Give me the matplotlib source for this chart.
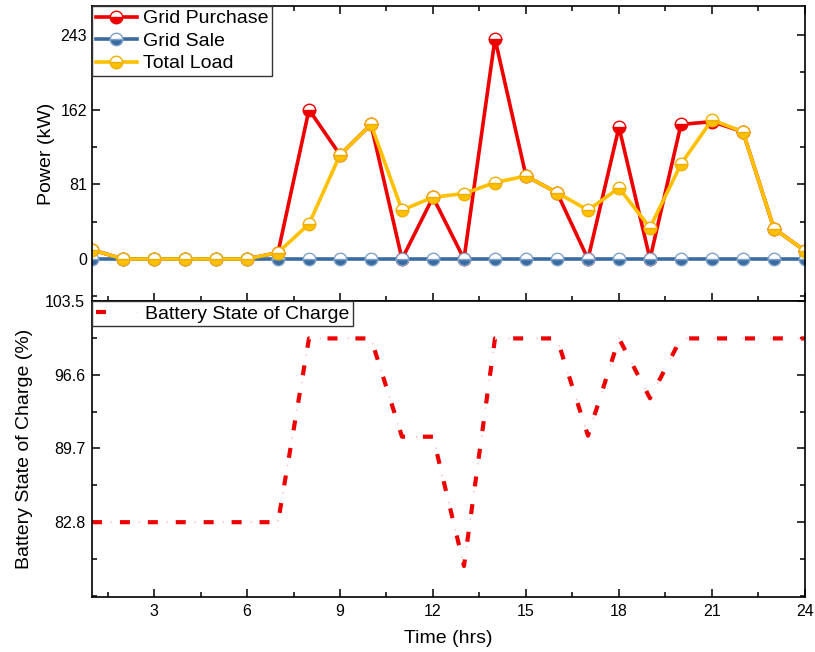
import matplotlib
matplotlib.use("Agg")
import matplotlib.pyplot as plt
from matplotlib.ticker import MultipleLocator
from matplotlib.legend_handler import HandlerTuple

plt.rcParams['font.family'] = ['Liberation Sans', 'DejaVu Sans']

hours = list(range(1, 25))
grid_purchase = [10, 0, 0, 0, 0, 0, 7, 162, 113, 146, 0, 67, 0, 239, 90, 72,
                 0, 143, 0, 146, 149, 138, 33, 9]
grid_sale = [0] * 24
total_load = [10, 0, 0, 0, 0, 0, 7, 38, 113, 146, 53, 67, 71, 83, 90, 72,
              53, 77, 34, 103, 151, 138, 33, 9]
battery_soc = [82.8, 82.8, 82.8, 82.8, 82.8, 82.8, 82.8, 100, 100, 100, 90.8, 90.8,
               78.7, 100, 100, 100, 90.9, 100, 94.4, 100, 100, 100, 100, 100]

power_ticks = [0, 81, 162, 243]
soc_ticks = [82.8, 89.7, 96.6, 103.5]

red = '#ee0000'
blue = '#3a6ba0'
yellow = '#ffc000'

fig = plt.figure(figsize=(8.15, 6.52), dpi=100)
ax1 = fig.add_axes([0.1129, 0.5383, 0.8748, 0.4525])
ax2 = fig.add_axes([0.1129, 0.0844, 0.8748, 0.4539])

mk = dict(marker='o', markersize=9, fillstyle='bottom', markerfacecoloralt='white',
          linewidth=2.6, markeredgewidth=1.0)
ax1.plot(hours, grid_purchase, color=red, markerfacecolor=red,
         markeredgecolor=red, label='Grid Purchase', **mk)
ax1.plot(hours, grid_sale, color=blue, markerfacecolor=blue,
         markeredgecolor='#7fa2c8', label='Grid Sale', **mk)
ax1.plot(hours, total_load, color=yellow, markerfacecolor=yellow,
         markeredgecolor='#f0b000', label='Total Load', **mk)

ax1.set_xlim(1, 24)
ax1.set_ylim(-45.6, 274.5)
ax1.set_yticks(power_ticks)
ax1.yaxis.set_minor_locator(MultipleLocator(40.5))
ax1.set_ylabel('Power (kW)', fontsize=14)
ax1.tick_params(labelbottom=False)
ax1.tick_params(which='both', direction='in', top=True, right=True, width=1.1)
ax1.tick_params(which='major', length=6, labelsize=11.5)
ax1.tick_params(which='minor', length=3.5)

leg1 = ax1.legend(loc='upper left', fontsize=14, fancybox=False, borderaxespad=0,
                  handlelength=2.1, handletextpad=0.3, labelspacing=0.25,
                  borderpad=0.2, framealpha=1)
leg1.get_frame().set_edgecolor('#333333')
leg1.get_frame().set_linewidth(1.0)

soc_line, = ax2.plot(hours, battery_soc, color=red, linewidth=3,
                     linestyle=(0, (2.4, 4.3)))
soc_dots, = ax2.plot(hours, battery_soc, color='#ffb8b8', linewidth=1,
                     linestyle=(7.0, (1.0, 19.2)))

ax2.set_xlim(1, 24)
ax2.set_ylim(75.8, 103.5)
ax2.set_xticks(range(3, 25, 3))
ax2.xaxis.set_minor_locator(MultipleLocator(1.5))
ax1.set_xticks(range(3, 25, 3))
ax1.xaxis.set_minor_locator(MultipleLocator(1.5))
ax2.set_yticks(soc_ticks)
ax2.set_yticklabels([str(t) for t in soc_ticks])
ax2.yaxis.set_minor_locator(MultipleLocator(3.45))
ax2.set_xlabel('Time (hrs)', fontsize=14, labelpad=8)
ax2.set_ylabel('Battery State of Charge (%)', fontsize=14, labelpad=9)
ax2.tick_params(which='both', direction='in', top=False, right=True, width=1.1)
ax2.tick_params(which='major', length=6, labelsize=11.5, pad=5)
ax2.tick_params(which='minor', length=3.5)

leg2 = ax2.legend([(soc_line, soc_dots)], ['Battery State of Charge'],
                  handler_map={tuple: HandlerTuple(ndivide=None)},
                  loc='upper left', fontsize=14, fancybox=False, borderaxespad=0,
                  handlelength=2.1, handletextpad=0.4, borderpad=0.2, framealpha=1)
leg2.get_frame().set_edgecolor('#333333')
leg2.get_frame().set_linewidth(1.0)

for ax in (ax1, ax2):
    for s in ax.spines.values():
        s.set_linewidth(1.2)

fig.savefig('out.png', dpi=100)
